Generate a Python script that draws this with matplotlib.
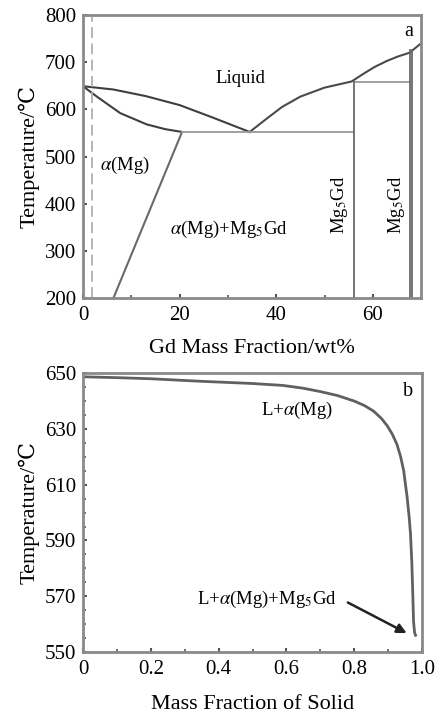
import numpy as np
import matplotlib
matplotlib.use('Agg')
from matplotlib import pyplot as plt
from matplotlib.ticker import MultipleLocator

plt.rcParams['font.family'] = ['Liberation Serif', 'DejaVu Serif']
plt.rcParams['mathtext.fontset'] = 'stix'

# --- panel a: Mg-Gd phase diagram (wt% Gd, degC)
liq_left_x = [0, 6.3, 13, 20, 27, 34.5]
liq_left_t = [649, 642, 628, 609, 582, 552]
liq_right_x = [34.5, 38, 41.2, 45, 50, 55.6, 58, 60.4, 63, 65.2, 67.6, 70]
liq_right_t = [552, 580, 605, 627, 646, 659, 675, 690, 703, 712, 720, 740]
sol_x = [0, 3, 7.7, 13.2, 17, 20.5]
sol_t = [649, 626, 592, 568, 558, 552]
solvus_x = [20.5, 6.3]
solvus_t = [552, 200]
eut_t = 552
eut_x = [20.5, 56]
peri_t = 657
peri_x = [56, 67.7]
mg5gd_x = [56, 67.6, 68.2]
mg5gd_top = [657, 725, 725]
dash_x = 1.9

# --- panel b: solidification curve
fs = [0, 0.1, 0.2, 0.346, 0.5, 0.59, 0.65, 0.70, 0.75, 0.8, 0.83, 0.857,
      0.88, 0.897, 0.912, 0.926, 0.937, 0.946, 0.956, 0.962, 0.966, 0.970,
      0.973, 0.975, 0.978, 0.981]
temp = [648.7, 648.4, 648.0, 647.1, 646.3, 645.6, 644.6, 643.4, 642.0, 640.0,
        638.4, 636.4, 633.8, 631.2, 628.2, 624.5, 620.0, 615.0, 605.6, 598.5,
        592.5, 582.0, 570.0, 561.0, 557.0, 556.0]

fig = plt.figure(figsize=(4.38, 7.13), dpi=100)

spc = '#8a8a8a'

ax1 = fig.add_axes([0.1895, 0.582, 0.772, 0.397])
ax1.plot(liq_left_x, liq_left_t, color='#3f3f3f', lw=1.5)
ax1.plot(liq_right_x, liq_right_t, color='#4a4a4a', lw=1.5)
ax1.plot(sol_x, sol_t, color='#3f3f3f', lw=1.5)
ax1.plot(solvus_x, solvus_t, color='#6a6a6a', lw=1.5)
ax1.plot(eut_x, [eut_t, eut_t], color='#9a9a9a', lw=1.3)
ax1.plot(peri_x, [peri_t, peri_t], color='#9a9a9a', lw=1.3)
for xv, tv in zip(mg5gd_x, mg5gd_top):
    ax1.plot([xv, xv], [200, tv], color='#6a6a6a', lw=1.3)
ax1.axvline(dash_x, color='#b0b0b0', lw=1.3, ls=(0, (6, 3)))

ax1.set_xlim(0, 70)
ax1.set_ylim(200, 800)
ax1.xaxis.set_major_locator(MultipleLocator(20))
ax1.xaxis.set_minor_locator(MultipleLocator(10))
ax1.yaxis.set_major_locator(MultipleLocator(100))
ax1.set_xlabel('Gd Mass Fraction/wt%', fontsize=16, labelpad=10)
ax1.set_ylabel('Temperature/\u2103', fontsize=16, labelpad=4)

ax1.text(32.6, 666, 'Liquid', fontsize=13.5, ha='center', va='center')
ax1.text(8.7, 482, r'$\alpha$(Mg)', fontsize=13.5, ha='center', va='center')
ax1.text(30.3, 346, r'$\alpha$(Mg)+Mg$_5$Gd', fontsize=13.5, ha='center', va='center')
ax1.text(53, 397, r'Mg$_5$Gd', fontsize=13.5, ha='center', va='center', rotation=90)
ax1.text(65, 397, r'Mg$_5$Gd', fontsize=13.5, ha='center', va='center', rotation=90)
ax1.text(67.4, 766, 'a', fontsize=14.5, ha='center', va='center')

ax2 = fig.add_axes([0.1895, 0.0856, 0.774, 0.391])
ax2.plot(fs, temp, color='#606060', lw=2)
ax2.annotate('', xy=(0.962, 556.3), xytext=(0.774, 568.2),
             arrowprops=dict(arrowstyle='-|>', color='#222222', lw=1.8,
                             mutation_scale=14))
ax2.set_xlim(0, 1.0)
ax2.set_ylim(550, 650)
ax2.xaxis.set_minor_locator(MultipleLocator(0.1))
ax2.yaxis.set_minor_locator(MultipleLocator(5))
ax2.set_yticks([550, 570, 590, 610, 630, 650])
ax2.set_xticks([0, 0.2, 0.4, 0.6, 0.8, 1.0])
ax2.set_xticklabels(['0', '0.2', '0.4', '0.6', '0.8', '1.0'])
ax2.set_xlabel('Mass Fraction of Solid', fontsize=16, labelpad=11)
ax2.set_ylabel('Temperature/\u2103', fontsize=16, labelpad=4)

ax2.text(0.63, 636.6, r'L+$\alpha$(Mg)', fontsize=13.5, ha='center', va='center')
ax2.text(0.543, 568.8, r'L+$\alpha$(Mg)+Mg$_5$Gd', fontsize=13.5, ha='center', va='center')
ax2.text(0.96, 643.5, 'b', fontsize=14.5, ha='center', va='center')

for ax in (ax1, ax2):
    for s in ax.spines.values():
        s.set_color(spc)
        s.set_linewidth(2)
    ax.tick_params(which='both', direction='in', labelsize=15,
                   color='#555555')
    ax.tick_params(axis='x', which='both', pad=6)
    ax.tick_params(axis='y', which='both', pad=5)
    ax.tick_params(which='major', length=3, width=1.5)
    ax.tick_params(which='minor', length=2, width=1.2)

fig.savefig('out.png', dpi=100)
